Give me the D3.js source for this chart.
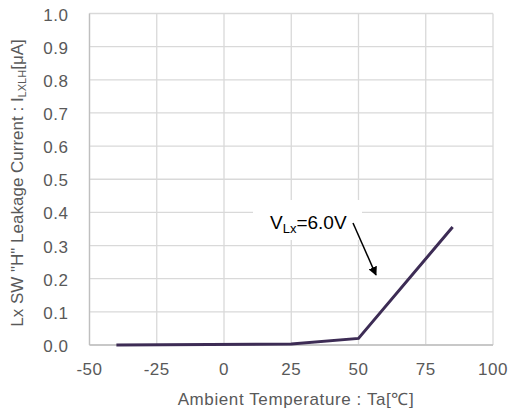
<!DOCTYPE html>
<html>
<head>
<meta charset="utf-8">
<script src="https://cdn.jsdelivr.net/npm/d3@7"></script>
<style>
  body { margin: 0; background: #fff; }
  svg text { font-family: "Liberation Sans", Arial, sans-serif; }
</style>
</head>
<body>
<div id="chart"></div>
<script>
  // data
  const temps = [-40, 25, 50, 85];
  const leak = [0.0, 0.003, 0.02, 0.356];
  const xTicks = [-50, -25, 0, 25, 50, 75, 100];
  const yTicks = [0, 0.1, 0.2, 0.3, 0.4, 0.5, 0.6, 0.7, 0.8, 0.9, 1.0];

  const width = 512, height = 412;
  const margin = {left: 89.5, right: 19, top: 13.5, bottom: 67};

  const svg = d3.select("#chart").append("svg")
    .attr("width", width)
    .attr("height", height);

  const x = d3.scaleLinear().domain([-50, 100]).range([margin.left, width - margin.right]);
  const y = d3.scaleLinear().domain([0, 1]).range([height - margin.bottom, margin.top]);

  const grid = svg.append("g");
  grid.selectAll(".vx").data(xTicks).enter().append("line")
    .attr("x1", d => x(d)).attr("x2", d => x(d))
    .attr("y1", y(0)).attr("y2", y(1))
    .attr("stroke", "#d9d9d9").attr("stroke-width", 1.3);
  grid.selectAll(".hy").data(yTicks).enter().append("line")
    .attr("x1", x(-50)).attr("x2", x(100))
    .attr("y1", d => y(d)).attr("y2", d => y(d))
    .attr("stroke", "#d9d9d9").attr("stroke-width", 1.3);

  // axis lines
  svg.append("line").attr("x1", x(-50)).attr("x2", x(-50)).attr("y1", y(0)).attr("y2", y(1))
    .attr("stroke", "#bfbfbf").attr("stroke-width", 1.3);
  svg.append("line").attr("x1", x(-50)).attr("x2", x(100)).attr("y1", y(0)).attr("y2", y(0))
    .attr("stroke", "#bfbfbf").attr("stroke-width", 1.3);

  // tick labels
  svg.selectAll(".xl").data(xTicks).enter().append("text")
    .attr("x", d => x(d)).attr("y", y(0) + 30)
    .attr("text-anchor", "middle")
    .style("font-size", "17px").style("letter-spacing", "0.5px").style("fill", "#595959")
    .text(d => d);
  svg.selectAll(".yl").data(yTicks).enter().append("text")
    .attr("x", x(-50) - 21).attr("y", d => y(d) + 7)
    .attr("text-anchor", "end")
    .style("font-size", "17px").style("letter-spacing", "0.5px").style("fill", "#595959")
    .text(d3.format(".1f"));

  // axis titles
  svg.append("text")
    .attr("x", 296).attr("y", 405)
    .attr("text-anchor", "middle")
    .style("font-size", "17px").style("letter-spacing", "0.6px").style("fill", "#595959")
    .text("Ambient Temperature : Ta[℃]");

  const yt = svg.append("text")
    .attr("transform", "translate(23,183) rotate(-90)")
    .attr("text-anchor", "middle")
    .style("font-size", "17px").style("fill", "#595959");
  yt.append("tspan").text("Lx SW \"H\" Leakage Current : I");
  yt.append("tspan").attr("dy", 3).style("font-size", "11px").text("LXLH");
  yt.append("tspan").attr("dy", -3).text("[μA]");

  // series line
  const line = d3.line().x((d, i) => x(temps[i])).y(d => y(d));
  svg.append("path")
    .datum(leak)
    .attr("d", line)
    .attr("fill", "none")
    .attr("stroke", "#3d2c55")
    .attr("stroke-width", 3);

  // annotation
  svg.append("rect")
    .attr("x", 253).attr("y", 200).attr("width", 109).attr("height", 40)
    .attr("fill", "#fff");
  const lab = svg.append("text")
    .attr("x", 270).attr("y", 229)
    .style("font-size", "19px").style("fill", "#000");
  lab.append("tspan").text("V");
  lab.append("tspan").attr("dy", 4).style("font-size", "13px").text("Lx");
  lab.append("tspan").attr("dy", -4).text("=6.0V");

  svg.append("defs").append("marker")
    .attr("id", "arr")
    .attr("viewBox", "0 0 10 10")
    .attr("refX", 9).attr("refY", 5)
    .attr("markerWidth", 6).attr("markerHeight", 6)
    .attr("orient", "auto")
    .append("path").attr("d", "M0,0 L10,5 L0,10 z").attr("fill", "#000");
  svg.append("line")
    .attr("x1", 353).attr("y1", 223).attr("x2", 376).attr("y2", 275)
    .attr("stroke", "#000").attr("stroke-width", 1.5)
    .attr("marker-end", "url(#arr)");
</script>
</body>
</html>
